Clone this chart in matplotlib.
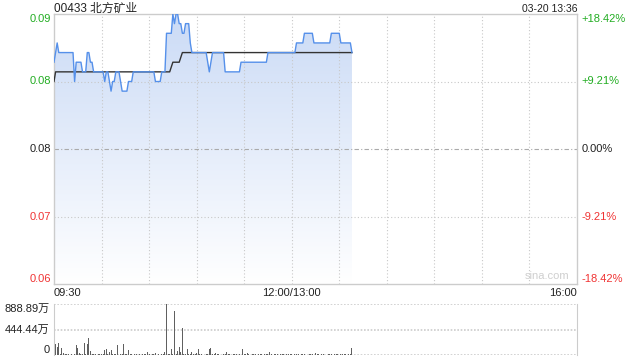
import numpy as np
import matplotlib
matplotlib.use('Agg')
import matplotlib.pyplot as plt
import matplotlib.transforms as mtrans
from matplotlib.colors import LinearSegmentedColormap
from matplotlib.patches import PathPatch

plt.rcParams['font.family'] = ['Liberation Sans', 'Noto Sans CJK SC', 'DejaVu Sans']

# ---- data (minute index from 09:30, lunch break removed) ----
title = '00433 北方矿业'
stamp = '03-20 13:36'
prev_close = 0.076

price = [
    0.085, 0.086, 0.087, 0.086, 0.086, 0.086, 0.086, 0.086, 0.086, 0.086,
    0.086, 0.086, 0.086, 0.083, 0.085, 0.085, 0.085, 0.085, 0.084, 0.084,
    0.084, 0.086, 0.086, 0.085, 0.085, 0.084, 0.084, 0.084, 0.084, 0.084,
    0.084, 0.084, 0.083, 0.084, 0.084, 0.083, 0.082, 0.083, 0.083, 0.084,
    0.084, 0.084, 0.083, 0.082, 0.082, 0.082, 0.082, 0.083, 0.083, 0.083,
    0.084, 0.084, 0.084, 0.084, 0.084, 0.084, 0.084, 0.084, 0.084, 0.084,
    0.084, 0.084, 0.084, 0.084, 0.083, 0.083, 0.083, 0.083, 0.084, 0.084,
    0.084, 0.088, 0.088, 0.088, 0.088, 0.090, 0.089, 0.090, 0.090, 0.089,
    0.089, 0.088, 0.088, 0.089, 0.089, 0.089, 0.087, 0.086, 0.086, 0.086,
    0.086, 0.086, 0.086, 0.086, 0.086, 0.086, 0.086, 0.085, 0.084, 0.085,
    0.086, 0.086, 0.086, 0.086, 0.086, 0.086, 0.086, 0.086, 0.084, 0.084,
    0.084, 0.084, 0.084, 0.084, 0.084, 0.084, 0.084, 0.084, 0.085, 0.085,
    0.085, 0.085, 0.085, 0.085, 0.085, 0.085, 0.085, 0.085, 0.085, 0.085,
    0.085, 0.085, 0.085, 0.085, 0.085, 0.086, 0.086, 0.086, 0.086, 0.086,
    0.086, 0.086, 0.086, 0.086, 0.086, 0.086, 0.086, 0.086, 0.086, 0.086,
    0.086, 0.086, 0.086, 0.087, 0.087, 0.087, 0.087, 0.087, 0.088, 0.088,
    0.088, 0.088, 0.088, 0.088, 0.087, 0.087, 0.087, 0.087, 0.087, 0.087,
    0.087, 0.087, 0.087, 0.087, 0.087, 0.088, 0.088, 0.088, 0.088, 0.088,
    0.088, 0.087, 0.087, 0.087, 0.087, 0.087, 0.087, 0.087, 0.086,
]

avg_price = [
    0.083, 0.084, 0.084, 0.084, 0.084, 0.084, 0.084, 0.084, 0.084, 0.084,
    0.084, 0.084, 0.084, 0.084, 0.084, 0.084, 0.084, 0.084, 0.084, 0.084,
    0.084, 0.084, 0.084, 0.084, 0.084, 0.084, 0.084, 0.084, 0.084, 0.084,
    0.084, 0.084, 0.084, 0.084, 0.084, 0.084, 0.084, 0.084, 0.084, 0.084,
    0.084, 0.084, 0.084, 0.084, 0.084, 0.084, 0.084, 0.084, 0.084, 0.084,
    0.084, 0.084, 0.084, 0.084, 0.084, 0.084, 0.084, 0.084, 0.084, 0.084,
    0.084, 0.084, 0.084, 0.084, 0.084, 0.084, 0.084, 0.084, 0.084, 0.084,
    0.084, 0.084, 0.084, 0.084, 0.0845, 0.085, 0.085, 0.085, 0.085, 0.085,
    0.0855, 0.086, 0.086, 0.086, 0.086, 0.086, 0.086, 0.086, 0.086, 0.086,
    0.086, 0.086, 0.086, 0.086, 0.086, 0.086, 0.086, 0.086, 0.086, 0.086,
    0.086, 0.086, 0.086, 0.086, 0.086, 0.086, 0.086, 0.086, 0.086, 0.086,
    0.086, 0.086, 0.086, 0.086, 0.086, 0.086, 0.086, 0.086, 0.086, 0.086,
    0.086, 0.086, 0.086, 0.086, 0.086, 0.086, 0.086, 0.086, 0.086, 0.086,
    0.086, 0.086, 0.086, 0.086, 0.086, 0.086, 0.086, 0.086, 0.086, 0.086,
    0.086, 0.086, 0.086, 0.086, 0.086, 0.086, 0.086, 0.086, 0.086, 0.086,
    0.086, 0.086, 0.086, 0.086, 0.086, 0.086, 0.086, 0.086, 0.086, 0.086,
    0.086, 0.086, 0.086, 0.086, 0.086, 0.086, 0.086, 0.086, 0.086, 0.086,
    0.086, 0.086, 0.086, 0.086, 0.086, 0.086, 0.086, 0.086, 0.086, 0.086,
    0.086, 0.086, 0.086, 0.086, 0.086, 0.086, 0.086, 0.086, 0.086,
]

# volume in 万 shares
volume = [
    20, 196, 142, 213, 15, 124, 30, 12, 10, 15,
    8, 12, 10, 15, 178, 124, 30, 10, 12, 213,
    10, 196, 302, 71, 12, 20, 10, 8, 12, 10,
    15, 10, 89, 107, 12, 50, 89, 25, 10, 12,
    178, 15, 10, 12, 196, 15, 10, 89, 12, 10,
    8, 12, 10, 10, 15, 8, 10, 12, 10, 53,
    10, 8, 12, 10, 35, 10, 12, 8, 10, 15,
    53, 888.89, 20, 12, 107, 25, 764, 15, 71, 142,
    50, 462, 15, 12, 107, 25, 10, 53, 12, 10,
    40, 107, 12, 10, 15, 8, 12, 10, 107, 124,
    12, 10, 35, 10, 12, 8, 10, 12, 10, 53,
    10, 12, 8, 10, 12, 10, 8, 12, 10, 107,
    10, 12, 35, 10, 8, 12, 10, 12, 8, 10,
    12, 10, 8, 12, 10, 10, 53, 12, 8, 10,
    10, 12, 8, 10, 12, 10, 8, 12, 10, 10,
    12, 8, 10, 12, 10, 8, 12, 10, 10, 12,
    8, 10, 12, 10, 8, 30, 10, 12, 8, 10,
    12, 10, 8, 12, 10, 12, 8, 10, 12, 10,
    8, 12, 10, 12, 10, 8, 10, 12, 124,
]

price_ticks = [0.062, 0.069, 0.076, 0.083, 0.090]
price_labels = ['0.06', '0.07', '0.08', '0.08', '0.09']
pct_labels = ['-18.42%', '-9.21%', '0.00%', '+9.21%', '+18.42%']
vol_ticks = [0, 444.44, 888.89]
vol_labels = ['0', '444.44万', '888.89万']
time_labels = ['09:30', '12:00/13:00', '16:00']
time_pos = [0, 150, 330]

GREEN = '#22ad22'
RED = '#f03333'
DARK = '#222222'
GRID = '#c8c8c8'

t = np.arange(len(price))

fig = plt.figure(figsize=(6.4, 3.6), dpi=100)
ax = fig.add_axes([54 / 640, 1 - 284 / 360, 523 / 640, 270 / 360])

# gradient fill under the price line
cmap = LinearSegmentedColormap.from_list('fade', ['#ffffff', '#cbdbf6'])
grad = np.linspace(1, 0, 256).reshape(-1, 1)
im = ax.imshow(grad, extent=[0, t[-1], 0.062, 0.090], aspect='auto',
               cmap=cmap, origin='upper', zorder=1)
poly = ax.fill_between(t, price, 0.062, facecolor='none', edgecolor='none')
clip = PathPatch(poly.get_paths()[0], transform=ax.transData,
                 facecolor='none', edgecolor='none')
ax.add_patch(clip)
im.set_clip_path(clip)

ax.plot(t, price, color='#5590ea', lw=1.0, zorder=4)
ax.plot(t, avg_price, color='#333333', lw=1.0, zorder=3)

ax.set_xlim(0, 330)
ax.set_ylim(0.062, 0.090)
ax.set_xticks([])
ax.set_yticks([])
for s in ax.spines.values():
    s.set_color('#cccccc')
    s.set_linewidth(1)

for x in range(30, 330, 30):
    ax.axvline(x, color=GRID, lw=0.8, ls=(0, (1, 2)), zorder=2)
for y in [0.069, 0.083]:
    ax.axhline(y, color=GRID, lw=0.8, ls=(0, (1, 2)), zorder=2)
ax.axhline(prev_close, color='#aaaaaa', lw=0.8, ls=(0, (4, 2, 1, 2)), zorder=2)

ytr = mtrans.blended_transform_factory(ax.transAxes, ax.transData)
xtr = mtrans.blended_transform_factory(ax.transData, ax.transAxes)
for i, (v, lab, pct) in enumerate(zip(price_ticks, price_labels, pct_labels)):
    col = GREEN if v > prev_close else (RED if v < prev_close else DARK)
    va = 'bottom' if i == 0 else ('top' if i == len(price_ticks) - 1 else 'center')
    ax.text(-0.006, v, lab, transform=ytr, ha='right', va=va, fontsize=8, color=col)
    ax.text(1.008, v, pct, transform=ytr, ha='left', va=va, fontsize=8, color=col)

for pos, lab, ha in zip(time_pos, time_labels, ['left', 'center', 'right']):
    ax.text(pos, -0.015, lab, transform=xtr, ha=ha, va='top', fontsize=8, color=DARK)

ax.text(0, 1.009, title, transform=ax.transAxes, ha='left', va='baseline',
        fontsize=8.5, color=DARK)
ax.text(1, 1.009, stamp, transform=ax.transAxes, ha='right', va='baseline',
        fontsize=7.5, color=DARK)
ax.text(0.985, 0.012, 'sina.com', transform=ax.transAxes, ha='right', va='bottom',
        fontsize=8, color='#cfcfcf')

# volume panel
ax2 = fig.add_axes([54 / 640, 1 - 355 / 360, 523 / 640, 51 / 360])
ax2.bar(t, volume, width=0.6, color='#606060', zorder=3)
ax2.set_xlim(0, 330)
ax2.set_ylim(0, 888.89)
ax2.set_xticks([])
ax2.set_yticks([])
for side in ['left', 'right']:
    ax2.spines[side].set_color('#cccccc')
for side in ['top', 'bottom']:
    ax2.spines[side].set_visible(False)
for y in vol_ticks:
    ax2.axhline(y, color='#cccccc', lw=1.2, ls=(0, (1, 1)), zorder=1)
vtr = mtrans.blended_transform_factory(ax2.transAxes, ax2.transData)
for v, lab, va in zip(vol_ticks, vol_labels, ['bottom', 'center', 'top']):
    ax2.text(-0.008, v, lab, transform=vtr, ha='right', va=va,
             fontsize=8, color=DARK)

fig.savefig('out.png', dpi=100)
